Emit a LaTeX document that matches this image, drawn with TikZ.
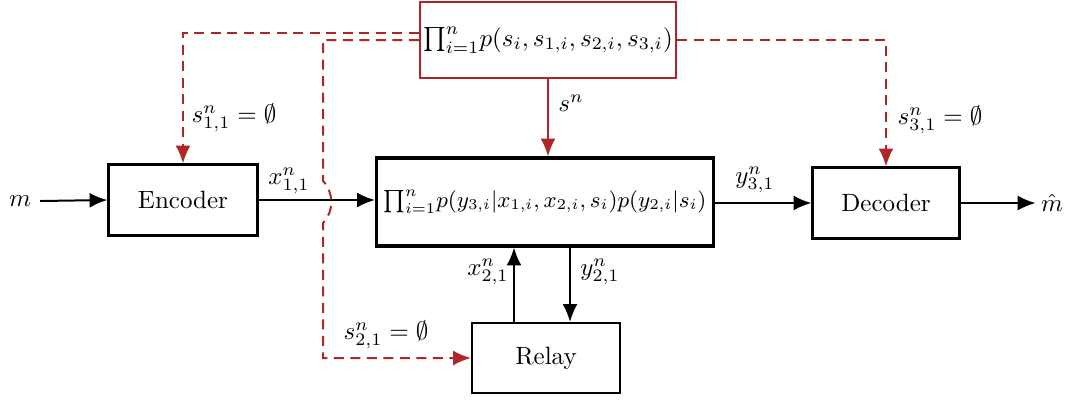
\documentclass[tikz,border=0pt]{standalone}
\usepackage{amsmath,amssymb}
\usepackage{xcolor}
\usetikzlibrary{positioning,arrows.meta,calc}
\definecolor{stred}{RGB}{176,38,38}

\begin{document}
\begin{tikzpicture}[
  x=0.4pt, y=-0.4pt,
  box/.style={draw, line width=0.9pt, align=center, inner sep=0pt},
  arr/.style={-{Latex[length=2.5mm, width=2.1mm]}, line width=0.8pt},
  sarr/.style={-{Latex[length=2.5mm, width=2.1mm]}, line width=0.8pt, stred, dash pattern=on 4pt off 2.6pt},
  lbl/.style={inner sep=1pt}
]
\useasboundingbox (0,0) rectangle (1075,403);
% blocks
\node[box, draw=stred, minimum width=102.4pt, minimum height=30.4pt, font=\fontsize{9.6}{11}\selectfont]
  (src) at (548,40) {$\prod_{i=1}^n\! p(s_i,s_{1,i},s_{2,i},s_{3,i})$};
\node[box, line width=1.3pt, minimum width=134.8pt, minimum height=35.2pt, font=\fontsize{8.9}{11}\selectfont]
  (chan) at (545,202) {$\prod_{i=1}^n\! p(y_{3,i}|x_{1,i},x_{2,i},s_i)p(y_{2,i}|s_i)$};
\node[box, minimum width=59.6pt, minimum height=28.4pt] (enc) at (183,200) {Encoder};
\node[box, minimum width=58.8pt, minimum height=28.4pt] (dec) at (886,203) {Decoder};
\node[box, minimum width=59.2pt, minimum height=28pt] (relay) at (546,358) {Relay};
\node[lbl] (m) at (20,201) {$m$};
\node[lbl] (mhat) at (1052,203) {$\hat{m}$};
% solid connectors
\draw[arr] ([xshift=2.5pt]m.east) -- (enc.west);
\draw[arr] (enc.east) -- (enc.east -| chan.west);
\draw[arr] (chan.east |- dec.west) -- (dec.west);
\draw[arr] (dec.east) -- ([xshift=-1pt]mhat.west);
\draw[arr] ([xshift=-12.8pt]relay.north) -- ([xshift=-12.8pt]relay.north |- chan.south);
\draw[arr] ([xshift=9.6pt]relay.north |- chan.south) -- ([xshift=9.6pt]relay.north);
\draw[arr, stred] (src.south) -- (src.south |- chan.north);
% state connectors
\draw[sarr] ([yshift=2.8pt]src.west) -| (enc.north);
\draw[sarr] (src.west) -- (323,40) -- (323,181)
  .. controls (334,192) and (334,212) .. (323,223) |- (relay.west);
\draw[sarr] (src.east) -| (dec.north);
% labels
\node[lbl] (lx1) at (289,181) {$x^n_{1,1}$};
\node[lbl] (ly3) at (755,180) {$y^n_{3,1}$};
\node[lbl] (lx2) at (488,272) {$x^n_{2,1}$};
\node[lbl] (ly2) at (600,272) {$y^n_{2,1}$};
\node[lbl] (lsn) at (571,103) {$s^n$};
\node[lbl] (ls1) at (234,118) {$s^n_{1,1}=\emptyset$};
\node[lbl] (ls2) at (386,335) {$s^n_{2,1}=\emptyset$};
\node[lbl] (ls3) at (940,120) {$s^n_{3,1}=\emptyset$};
\end{tikzpicture}
\end{document}
